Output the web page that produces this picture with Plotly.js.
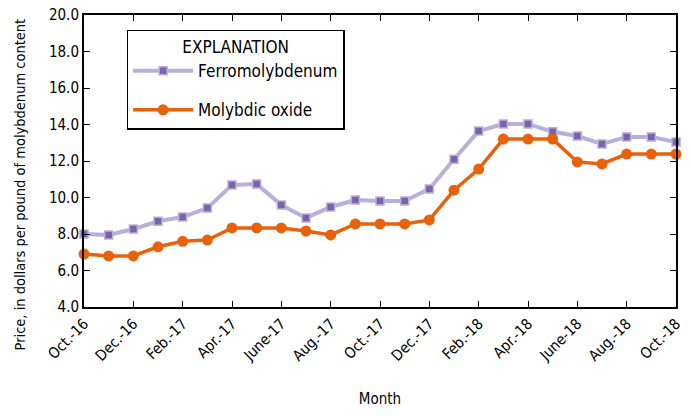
<!DOCTYPE html>
<html><head><meta charset="utf-8">
<script src="https://cdn.plot.ly/plotly-3.0.1.min.js"></script>
<style>html,body{margin:0;padding:0;background:#fff}#chart{width:692px;height:416px}</style>
</head><body><div id="chart"></div>
<script>
var months = ["Oct.-16","Nov.-16","Dec.-16","Jan.-17","Feb.-17","Mar.-17","Apr.-17","May-17","June-17","July-17","Aug.-17","Sept.-17","Oct.-17","Nov.-17","Dec.-17","Jan.-18","Feb.-18","Mar.-18","Apr.-18","May-18","June-18","July-18","Aug.-18","Sept.-18","Oct.-18"];
var tickLabels = ["Oct.-16","Dec.-16","Feb.-17","Apr.-17","June-17","Aug.-17","Oct.-17","Dec.-17","Feb.-18","Apr.-18","June-18","Aug.-18","Oct.-18"];
var ferromolybdenum = [8.0,7.95,8.27,8.7,8.93,9.42,10.68,10.74,9.59,8.88,9.48,9.86,9.81,9.81,10.47,12.1,13.64,14.03,14.03,13.6,13.37,12.93,13.32,13.32,13.04];
var molybdicOxide = [6.9,6.8,6.8,7.3,7.6,7.67,8.33,8.33,8.33,8.16,7.95,8.55,8.55,8.55,8.77,10.4,11.56,13.2,13.2,13.2,11.95,11.84,12.38,12.38,12.38];
var yTicks = [4,6,8,10,12,14,16,18,20];
var yTitle = "Price, in dollars per pound of molybdenum content";

var FONT = "'DejaVu Sans Condensed', 'Liberation Sans', sans-serif";
var traces = [
 {x: months, y: ferromolybdenum, name: "Ferromolybdenum", legendgroup: "a", mode: "lines+markers", cliponaxis: false,
  line: {color: "#b8b0da", width: 4},
  marker: {symbol: "square", size: 8, color: "#7c62a6", line: {color: "#b8b0da", width: 1.5}}},
 {x: months, y: molybdicOxide, name: "Molybdic oxide", legendgroup: "b", mode: "lines+markers", cliponaxis: false,
  line: {color: "#e8620c", width: 3.5},
  marker: {symbol: "circle", size: 11, color: "#e8620c"}}
];
var layout = {
 width: 692, height: 416,
 margin: {l: 84, r: 16, t: 15, b: 109},
 paper_bgcolor: "#fff", plot_bgcolor: "#fff",
 font: {family: FONT, size: 15, color: "#000"},
 showlegend: true,
 legend: {x: 0.072, y: 0.95, xanchor: "left", yanchor: "top", bgcolor: "#fff", bordercolor: "#000", borderwidth: 1.5,
  font: {family: FONT, size: 17}, title: {text: "EXPLANATION", side: "top center", font: {family: FONT, size: 17}},
  itemwidth: 60, tracegroupgap: 14},
 xaxis: {type: "category", range: [0, 24], tickmode: "array", tickvals: tickLabels, ticktext: tickLabels,
  tickangle: -45, ticks: "inside", ticklen: 6, tickcolor: "#000", mirror: "ticks", showline: true, linecolor: "#000", linewidth: 2,
  showgrid: false, zeroline: false, tickfont: {family: FONT, size: 15},
  title: {text: "Month", font: {family: FONT, size: 15}, standoff: 30}},
 yaxis: {range: [4, 20], tickvals: yTicks, tickformat: ".1f", ticks: "inside", ticklen: 6, tickcolor: "#000",
  mirror: "ticks", showline: true, linecolor: "#000", linewidth: 2, showgrid: false, zeroline: false,
  tickfont: {family: FONT, size: 15}},
 annotations: [{text: yTitle, xref: "paper", yref: "paper", x: -0.108, y: 0.42, xanchor: "center", yanchor: "middle",
  textangle: -90, showarrow: false, font: {family: FONT, size: 14.5}}]
};
Plotly.newPlot("chart", traces, layout, {displayModeBar: false, staticPlot: true});
</script></body></html>
